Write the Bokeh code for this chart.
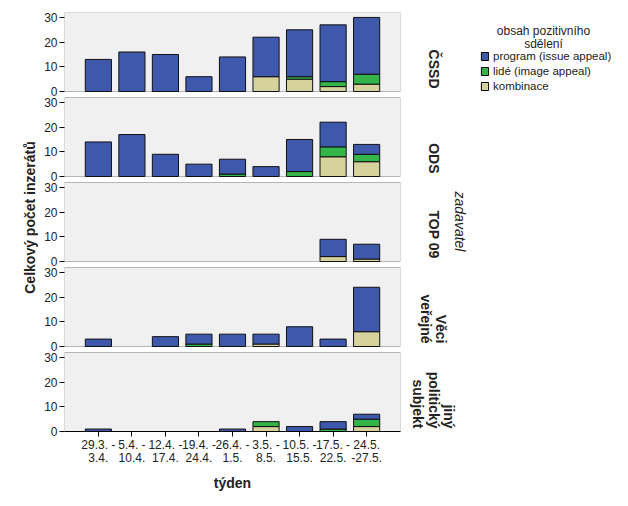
from math import pi
from bokeh.plotting import figure
from bokeh.models import (Range1d, FixedTicker, Label, Legend, LegendItem, ColumnDataSource,
                          BoxAnnotation, CustomJSTickFormatter)
from bokeh.layouts import row
from bokeh.embed import file_html
from bokeh.resources import INLINE

# ---------------- data ----------------
weeks = ["29.3. -\n3.4.", "5.4. -\n10.4.", "12.4. -\n17.4.", "19.4. -\n24.4.",
         "26.4. -\n1.5.", "3.5. -\n8.5.", "10.5. -\n15.5.", "17.5. -\n22.5.", "24.5.\n-27.5."]
parties = ["ČSSD", "ODS", "TOP 09", "Věci\nveřejné", "jiný\npolitický\nsubjekt"]
series_labels = ["program (issue appeal)", "lidé (image appeal)", "kombinace"]
y_ticks = [0, 10, 20, 30]

cssd_kombinace = [0, 0, 0, 0, 0, 6, 5, 2, 3]
cssd_lide      = [0, 0, 0, 0, 0, 0, 1, 2, 4]
cssd_program   = [13, 16, 15, 6, 14, 16, 19, 23, 23]

ods_kombinace = [0, 0, 0, 0, 0, 0, 0, 8, 6]
ods_lide      = [0, 0, 0, 0, 1, 0, 2, 4, 3]
ods_program   = [14, 17, 9, 5, 6, 4, 13, 10, 4]

top09_kombinace = [0, 0, 0, 0, 0, 0, 0, 2, 1]
top09_lide      = [0, 0, 0, 0, 0, 0, 0, 0, 0]
top09_program   = [0, 0, 0, 0, 0, 0, 0, 7, 6]

vv_kombinace = [0, 0, 0, 0, 0, 1, 0, 0, 6]
vv_lide      = [0, 0, 0, 1, 0, 0, 0, 0, 0]
vv_program   = [3, 0, 4, 4, 5, 4, 8, 3, 18]

jiny_kombinace = [0, 0, 0, 0, 0, 2, 0, 0, 2]
jiny_lide      = [0, 0, 0, 0, 0, 2, 0, 1, 3]
jiny_program   = [1, 0, 0, 0, 1, 0, 2, 3, 2]

panel_data = [
    (cssd_kombinace, cssd_lide, cssd_program),
    (ods_kombinace, ods_lide, ods_program),
    (top09_kombinace, top09_lide, top09_program),
    (vv_kombinace, vv_lide, vv_program),
    (jiny_kombinace, jiny_lide, jiny_program),
]

# ---------------- style / geometry ----------------
BLUE = "#3E58AC"
GREEN = "#34B54A"
TAN = "#D6D29D"
TXT = "#222222"
FONT = "Liberation Sans"

LEFT_W = 38
BORDER_L = 26
FRAME_W = 336
BORDER_R = 8
MAIN_W = BORDER_L + FRAME_W + BORDER_R
RIGHT_W = 212

PANEL_MAX = 32.0                 # value range shown in each panel
PANEL_PX = 79                    # panel height in pixels
PX_PER_UNIT = PANEL_PX / PANEL_MAX
STEP_PX = 85                     # distance between panel baselines
STEP = STEP_PX / PX_PER_UNIT     # same, in value units
N = len(panel_data)
FRAME_H = (N - 1) * STEP_PX + PANEL_PX
TOP_B = 12
BOT_B = 65
TOTAL_H = TOP_B + FRAME_H + BOT_B
FB = TOP_B + FRAME_H             # page y of the (row-aligned) frame bottom

p = figure(width=MAIN_W, height=TOTAL_H,
           x_range=Range1d(-1.01, 9.01), y_range=Range1d(0, (N - 1) * STEP + PANEL_MAX),
           output_backend="svg", toolbar_location=None,
           min_border_left=BORDER_L, min_border_right=BORDER_R,
           min_border_top=TOP_B, min_border_bottom=BOT_B,
           background_fill_color="white", border_fill_color="white",
           outline_line_color=None)
p.xgrid.visible = False
p.ygrid.visible = False

bases = [(N - 1 - k) * STEP for k in range(N)]
for k, (komb, lide, prog) in enumerate(panel_data):
    b = bases[k]
    p.add_layout(BoxAnnotation(bottom=b, top=b + PANEL_MAX, fill_color="#F0F0F0", fill_alpha=1,
                               line_color="#202020", line_width=1, level="underlay"))
    src = ColumnDataSource(dict(
        x=list(range(len(weeks))), base=[b] * len(weeks),
        kombinace=komb, lide=lide, program=prog,
        a_k=[1.0 if v > 0 else 0.0 for v in komb],
        a_l=[1.0 if v > 0 else 0.0 for v in lide],
        a_p=[1.0 if v > 0 else 0.0 for v in prog],
    ))
    rs = p.vbar_stack(["base", "kombinace", "lide", "program"], x="x", width=0.78, source=src,
                      fill_color=["white", TAN, GREEN, BLUE], line_color="#111111", line_width=1,
                      line_alpha=[0.0, "a_k", "a_l", "a_p"])
    rs[0].visible = False

ya = p.yaxis[0]
ya.ticker = FixedTicker(ticks=[b + t for b in bases for t in y_ticks])
ya.formatter = CustomJSTickFormatter(args=dict(step=STEP),
                                     code="const v = tick - step*Math.floor((tick + 0.5)/step); return String(Math.round(v));")
ya.minor_tick_line_color = None
ya.major_tick_out = 5
ya.major_tick_in = 0
ya.major_tick_line_color = "black"
ya.major_label_standoff = 2
ya.axis_line_color = None
ya.major_label_text_font = FONT
ya.major_label_text_font_size = "12px"
ya.major_label_text_color = TXT

xa = p.xaxis[0]
xa.ticker = FixedTicker(ticks=list(range(len(weeks))))
xa.major_label_overrides = {k: w for k, w in enumerate(weeks)}
xa.minor_tick_line_color = None
xa.major_tick_out = 5
xa.major_tick_in = 0
xa.major_label_standoff = 1
xa.axis_line_color = "black"
xa.major_label_text_font = FONT
xa.major_label_text_font_size = "12px"
xa.major_label_text_color = TXT
xa.major_label_text_line_height = 0.95
xa.axis_label = "týden"
xa.axis_label_text_font = FONT
xa.axis_label_text_font_size = "14px"
xa.axis_label_text_font_style = "bold"
xa.axis_label_text_color = TXT
xa.axis_label_standoff = 7

# ---------------- right side: strip labels, variable name, legend ----------------
rf = figure(width=RIGHT_W, height=TOTAL_H, x_range=Range1d(0, 1), y_range=Range1d(0, 1),
            output_backend="svg", toolbar_location=None, min_border=0,
            outline_line_color=None, x_axis_location=None, y_axis_location=None)
rf.xgrid.visible = False
rf.ygrid.visible = False

panel_bottoms = [TOP_B + PANEL_PX + k * STEP_PX for k in range(N)]   # page y of each panel base
for k, name in enumerate(parties):
    rf.add_layout(Label(x=25, y=FB - (panel_bottoms[k] - 3), x_units="screen", y_units="screen",
                        text=name, angle=-pi / 2, text_align="right",
                        text_baseline="middle", text_font=FONT, text_font_size="14px",
                        text_font_style="bold", text_color=TXT, text_line_height=0.95))

rf.add_layout(Label(x=51, y=FB - 221, x_units="screen", y_units="screen",
                    text="zadavatel", angle=-pi / 2, text_align="center",
                    text_baseline="middle", text_font=FONT, text_font_size="14px",
                    text_font_style="italic", text_color=TXT))

nan = float("nan")
dummy = ColumnDataSource(dict(x=[nan], top=[nan]))
lr_prog = rf.vbar(x="x", top="top", width=0.5, source=dummy, fill_color=BLUE, line_color="black")
lr_lide = rf.vbar(x="x", top="top", width=0.5, source=dummy, fill_color=GREEN, line_color="black")
lr_komb = rf.vbar(x="x", top="top", width=0.5, source=dummy, fill_color=TAN, line_color="black")

legend = Legend(items=[
    LegendItem(label=series_labels[0], renderers=[lr_prog]),
    LegendItem(label=series_labels[1], renderers=[lr_lide]),
    LegendItem(label=series_labels[2], renderers=[lr_komb]),
], location=(72, FB - 92), border_line_color=None, background_fill_alpha=0,
    padding=0, margin=0, spacing=3, glyph_width=9, glyph_height=10,
    label_height=10, label_standoff=4, label_text_font=FONT,
    label_text_font_size="11.5px", label_text_color=TXT)
rf.add_layout(legend, "center")
rf.add_layout(Label(x=135, y=FB - 23, x_units="screen", y_units="screen",
                    text="obsah pozitivního\nsdělení", text_align="center",
                    text_baseline="top", text_font=FONT, text_font_size="12px",
                    text_color=TXT, text_line_height=0.95))

# ---------------- left: y-axis title ----------------
left = figure(width=LEFT_W, height=TOTAL_H, x_range=Range1d(0, 1), y_range=Range1d(0, 1),
              output_backend="svg", toolbar_location=None, min_border=0,
              outline_line_color=None, x_axis_location=None, y_axis_location=None)
left.xgrid.visible = False
left.ygrid.visible = False
left.add_layout(Label(x=29, y=FB - 217, x_units="screen", y_units="screen",
                      text="Celkový počet inzerátů", angle=pi / 2, text_align="center",
                      text_baseline="middle", text_font=FONT, text_font_size="14px",
                      text_font_style="bold", text_color=TXT))

layout = row(left, p, rf, spacing=0)
open("out.html", "w").write(file_html(layout, INLINE))
